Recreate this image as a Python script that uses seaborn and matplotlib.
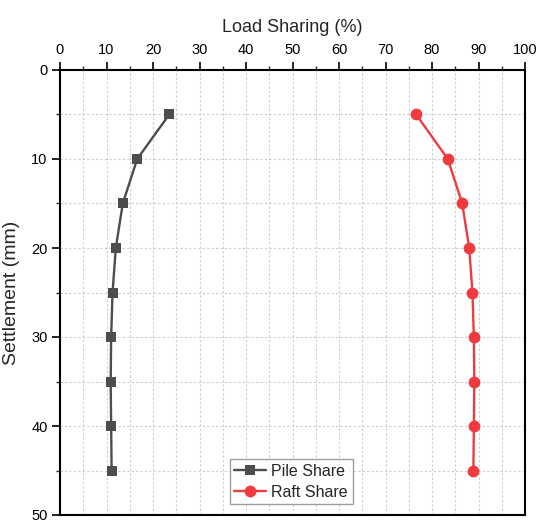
import matplotlib

matplotlib.use("Agg")

import matplotlib.pyplot as plt
import pandas as pd
import seaborn as sns
from matplotlib.ticker import MultipleLocator

settlement = [5, 10, 15, 20, 25, 30, 35, 40, 45]
pile_share = [23.5, 16.6, 13.5, 12.0, 11.3, 11.0, 10.9, 11.0, 11.1]
raft_share = [76.6, 83.4, 86.5, 88.0, 88.7, 89.0, 89.1, 89.0, 88.9]

sns.set_theme(style="white")
plt.rcParams["font.family"] = ["Liberation Sans", "DejaVu Sans"]

df = pd.DataFrame({"settlement": settlement, "Pile Share": pile_share, "Raft Share": raft_share})

fig = plt.figure(figsize=(5.39, 5.24), dpi=100)
ax = fig.add_axes([60 / 539, 9 / 524, 465 / 539, 445 / 524])

sns.lineplot(data=df, x="Pile Share", y="settlement", sort=False, estimator=None,
             color="#4d4d4d", marker="s", markersize=7.5, markeredgewidth=0,
             linewidth=1.7, label="Pile Share", ax=ax)
sns.lineplot(data=df, x="Raft Share", y="settlement", sort=False, estimator=None,
             color="#ef3b3f", marker="o", markersize=8.5, markeredgewidth=0,
             linewidth=1.7, label="Raft Share", ax=ax)

ax.set_xlim(0, 100)
ax.set_ylim(50, 0)
ax.xaxis.set_major_locator(MultipleLocator(10))
ax.xaxis.set_minor_locator(MultipleLocator(5))
ax.yaxis.set_major_locator(MultipleLocator(10))
ax.yaxis.set_minor_locator(MultipleLocator(5))
ax.xaxis.tick_top()
ax.xaxis.set_label_position("top")
ax.tick_params(axis="both", which="major", direction="out", length=6, width=1.2,
               labelsize=10.5, colors="black", pad=3)
ax.tick_params(axis="both", which="minor", direction="out", length=3, width=1.0)
ax.tick_params(axis="x", which="both", top=True, bottom=False)
ax.tick_params(axis="y", which="both", left=True, right=False)

ax.grid(True, which="both", color="#cccccc", linestyle=(0, (2, 2)), linewidth=0.8)
ax.set_axisbelow(True)
for side in ["top", "bottom", "left", "right"]:
    ax.spines[side].set_visible(True)
    ax.spines[side].set_color("black")
    ax.spines[side].set_linewidth(1.5)

ax.set_xlabel("Load Sharing (%)", fontsize=13, labelpad=8)
ax.set_ylabel("Settlement (mm)", fontsize=14, labelpad=8)

leg = ax.legend(loc="lower center", bbox_to_anchor=(0.497, 0.024), fontsize=11.5,
                frameon=True, fancybox=False, handlelength=2.0, borderpad=0.3,
                labelspacing=0.35, handletextpad=0.3, borderaxespad=0)
leg.get_frame().set_edgecolor("#888888")
leg.get_frame().set_linewidth(1.0)

fig.savefig("out.png", dpi=100)
